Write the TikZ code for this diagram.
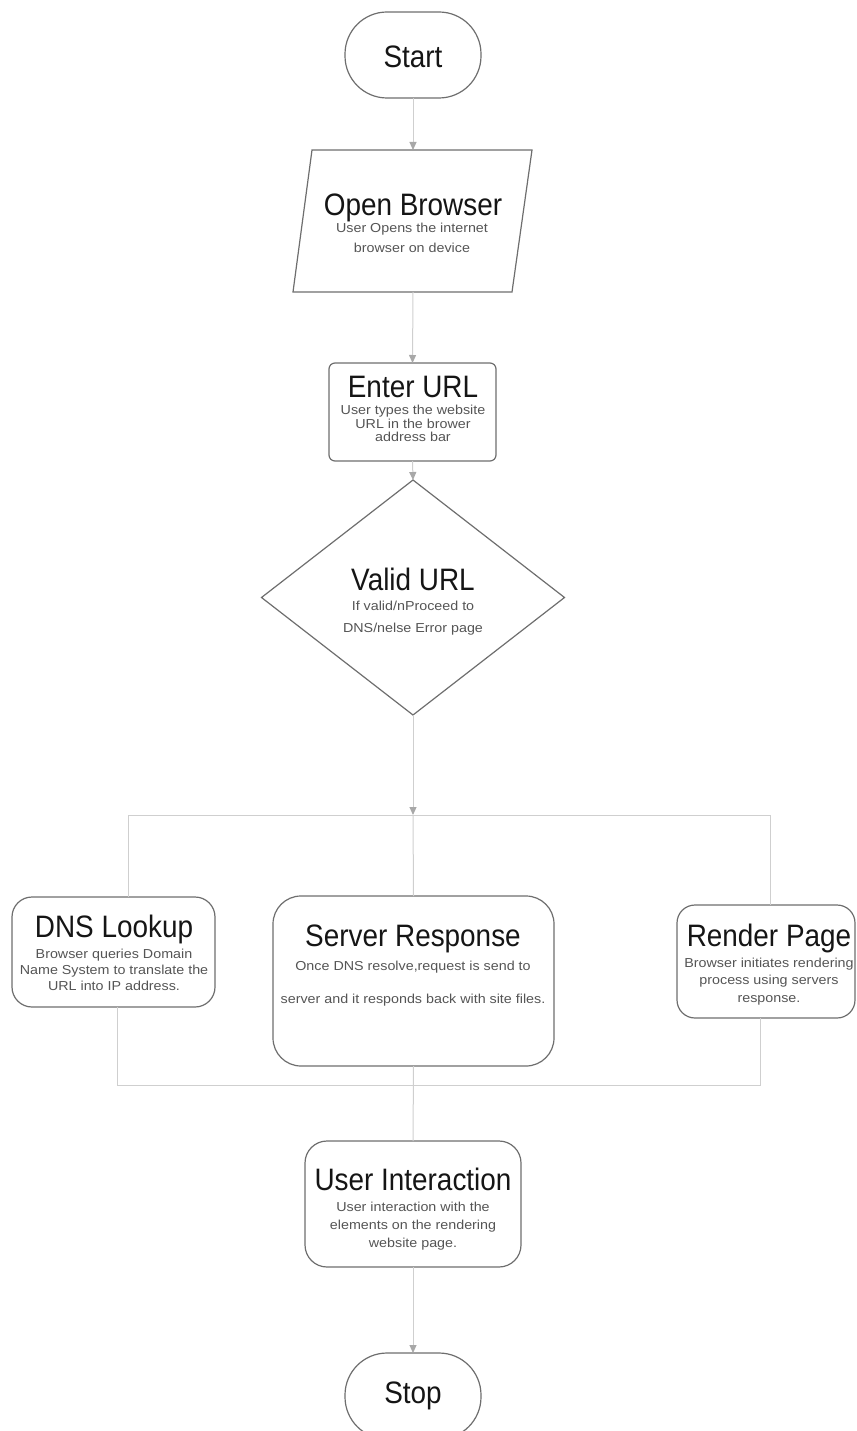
\documentclass[tikz,border=0pt]{standalone}
\usepackage{fontspec}
\setmainfont{Liberation Sans}
\newfontfamily\titlefont[FakeStretch=0.9]{Liberation Sans}
\newfontfamily\subfont[FakeStretch=1.1]{Liberation Sans}
\usetikzlibrary{shapes.geometric,arrows.meta,calc}
\definecolor{bordergray}{HTML}{6E6E6E}
\definecolor{linegray}{HTML}{CFCFCF}
\definecolor{tipgray}{HTML}{A8A8A8}
\definecolor{subgray}{HTML}{555555}
\definecolor{titleblack}{HTML}{151515}
\begin{document}
\begin{tikzpicture}[x=1pt,y=-1pt,
  shapebox/.style={draw=bordergray,line width=1.2pt,fill=white,inner sep=0pt,outer sep=0pt},
  rbox/.style={shapebox,rectangle,rounded corners=#1},
  ghost/.style={rectangle,inner sep=0pt,outer sep=0pt},
  title/.style={font=\titlefont\fontsize{31}{31}\selectfont,text=titleblack,anchor=base,inner sep=0pt},
  sub/.style={font=\subfont\fontsize{13}{17}\selectfont,text=subgray,anchor=base,inner sep=0pt},
  conn/.style={draw=linegray,line width=1pt},
  arr/.style={conn,-{Triangle[length=8pt,width=7pt,color=tipgray]}},
]
\useasboundingbox (0,0) rectangle (856,1431);

% Start
\node[rbox=42pt,minimum width=136pt,minimum height=86pt] (start) at (413,55) {};
\node[title] (startT) at (413,68) {Start};

% Open Browser (parallelogram)
\node[ghost,minimum width=220pt,minimum height=142pt] (ob) at (413,221) {};
\draw[draw=bordergray,line width=1.2pt,fill=white] (293,292) -- (512,292) -- (532,150) -- (312,150) -- cycle;
\node[title] (obT) at (413,216) {Open Browser};
\node[sub] (obS1) at (412,233) {User Opens the internet};
\node[sub] (obS2) at (412,252.5) {browser on device};

% Enter URL
\node[rbox=6pt,minimum width=167pt,minimum height=98pt] (url) at (412.5,412) {};
\node[title] (urlT) at (413,397) {Enter URL};
\node[sub] (urlS1) at (413,414.5) {User types the website};
\node[sub] (urlS2) at (413,428) {URL in the brower};
\node[sub] (urlS3) at (413,441.5) {address bar};

% Valid URL
\node[shapebox,diamond,minimum width=303pt,minimum height=235pt] (valid) at (413,597.5) {};
\node[title] (validT) at (413,590) {Valid URL};
\node[sub] (validS1) at (413,610.5) {If valid/nProceed to};
\node[sub] (validS2) at (413,632) {DNS/nelse Error page};

% DNS Lookup
\node[rbox=20pt,minimum width=203pt,minimum height=110pt] (dns) at (113.5,952) {};
\node[title] (dnsT) at (114,937) {DNS Lookup};
\node[sub] (dnsS1) at (114,958) {Browser queries Domain};
\node[sub] (dnsS2) at (114,974) {Name System to translate the};
\node[sub] (dnsS3) at (114,990) {URL into IP address.};

% Server Response
\node[rbox=28pt,minimum width=281pt,minimum height=170pt] (srv) at (413.5,981) {};
\node[title] (srvT) at (413,946) {Server Response};
\node[sub] (srvS1) at (413,970) {Once DNS resolve,request is send to};
\node[sub] (srvS2) at (413,1003.5) {server and it responds back with site files.};

% Render Page
\node[rbox=18pt,minimum width=178pt,minimum height=113pt] (rnd) at (766,961.5) {};
\node[title] (rndT) at (769,946) {Render Page};
\node[sub] (rndS1) at (769,967) {Browser initiates rendering};
\node[sub] (rndS2) at (769,984.5) {process using servers};
\node[sub] (rndS3) at (769,1002) {response.};

% User Interaction
\node[rbox=22pt,minimum width=216pt,minimum height=126pt] (ui) at (413,1204) {};
\node[title] (uiT) at (413,1190) {User Interaction};
\node[sub] (uiS1) at (413,1211.5) {User interaction with the};
\node[sub] (uiS2) at (413,1229.5) {elements on the rendering};
\node[sub] (uiS3) at (413,1247.5) {website page.};

% Stop
\node[rbox=42pt,minimum width=136pt,minimum height=86pt] (stop) at (413,1396) {};
\node[title] (stopT) at (413,1403) {Stop};

% connectors
\coordinate (jc) at (413,815);
\coordinate (jl) at (128,815);
\coordinate (jr) at (770,815);
\coordinate (bl) at (117,1085);
\coordinate (br) at (760,1085);

\draw[arr] (start.south) -- (ob.north);
\draw[arr] (ob.south) -- (url.north);
\draw[arr] (url.south) -- (valid.north);
\draw[arr] (valid.south) -- (jc);
\draw[conn] (jl) -- (jr);
\draw[conn] (jl) -- (jl |- dns.north);
\draw[conn] (jc) -- (srv.north);
\draw[conn] (jr) -- (jr |- rnd.north);
\draw[conn] (bl |- dns.south) -- (bl) -- (br) -- (br |- rnd.south);
\draw[conn] (srv.south) -- (ui.north);
\draw[arr] (ui.south) -- (stop.north);
\end{tikzpicture}
\end{document}
